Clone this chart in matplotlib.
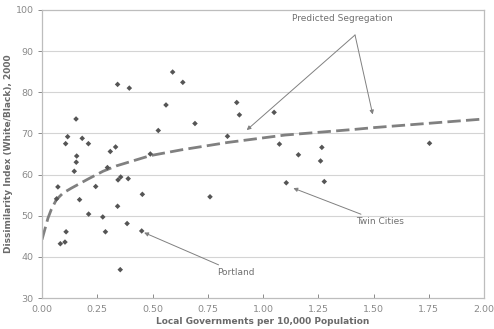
import matplotlib
matplotlib.use("Agg")
import matplotlib.pyplot as plt

# Scatter data: local governments per 10,000 population vs dissimilarity index
gov_per_10k = [0.072, 0.066, 0.083, 0.104, 0.109, 0.107, 0.116, 0.146, 0.155, 0.157,
               0.154, 0.170, 0.182, 0.210, 0.211, 0.243, 0.275, 0.287, 0.296, 0.309,
               0.333, 0.342, 0.342, 0.344, 0.356, 0.354, 0.385, 0.390, 0.395, 0.451,
               0.454, 0.490, 0.526, 0.561, 0.591, 0.637, 0.692, 0.760, 0.839, 0.881,
               0.893, 1.050, 1.074, 1.105, 1.160, 1.260, 1.266, 1.277, 1.753]
dissimilarity = [57.0, 54.1, 43.2, 43.6, 46.1, 67.5, 69.2, 60.8, 63.0, 64.5,
                 73.5, 53.9, 68.8, 67.5, 50.4, 57.1, 49.7, 46.1, 61.7, 65.6,
                 66.7, 81.9, 52.3, 58.7, 59.4, 36.9, 48.1, 59.0, 81.0, 46.3,
                 55.2, 65.0, 70.7, 76.9, 84.9, 82.4, 72.4, 54.6, 69.3, 77.5,
                 74.5, 75.1, 67.4, 58.0, 64.8, 63.3, 66.6, 58.3, 67.6]

# Predicted segregation curve
pred_x = [0.0, 0.027, 0.042, 0.065, 0.095, 0.133, 0.208, 0.276, 0.336, 0.49,
          0.63, 0.84, 1.10, 1.42, 1.50, 2.00]
pred_y = [44.2, 49.4, 51.5, 53.9, 55.5, 56.7, 58.9, 60.8, 62.1, 64.6,
          66.0, 67.8, 69.6, 71.0, 71.4, 73.5]

x_ticks = [0.00, 0.25, 0.50, 0.75, 1.00, 1.25, 1.50, 1.75, 2.00]
x_tick_labels = ["0.00", "0.25", "0.50", "0.75", "1.00", "1.25", "1.50", "1.75", "2.00"]
y_ticks = [30, 40, 50, 60, 70, 80, 90, 100]

fig = plt.figure(figsize=(4.94, 3.29), dpi=100)
ax = fig.add_axes([0.085, 0.094, 0.895, 0.876])

ax.set_xlim(0, 2.0)
ax.set_ylim(30, 100)
ax.set_xticks(x_ticks)
ax.set_xticklabels(x_tick_labels)
ax.set_yticks(y_ticks)

for y in y_ticks[1:-1]:
    ax.axhline(y, color="#d4d4d4", lw=0.8, zorder=0)

for sp in ax.spines.values():
    sp.set_color("#bdbdbd")
    sp.set_linewidth(0.9)

ax.tick_params(axis="both", labelsize=6.8, colors="#8a8a8a", length=3, width=0.7)
ax.tick_params(axis="x", direction="in", pad=5)
ax.tick_params(axis="y", direction="out", pad=3)

ax.scatter(gov_per_10k, dissimilarity, marker="D", s=8, color="#555555",
           edgecolors="none", zorder=3)

ln, = ax.plot(pred_x, pred_y, color="#808080", lw=2.0, zorder=2)
ln.set_dashes([4.8, 1.9])

arrow_kw = dict(arrowstyle="-|>", color="#808080", lw=0.7, mutation_scale=6,
                shrinkA=0, shrinkB=0)

ax.text(1.36, 98.0, "Predicted Segregation", fontsize=6.5, color="#707070",
        ha="center", va="center")
ax.annotate("", xy=(0.926, 70.8), xytext=(1.416, 93.9), arrowprops=arrow_kw)
ax.annotate("", xy=(1.496, 74.6), xytext=(1.416, 93.9), arrowprops=arrow_kw)

ax.annotate("Portland", xy=(0.462, 45.9), xytext=(0.79, 36.3), fontsize=6.5,
            color="#707070", ha="left", va="center", arrowprops=arrow_kw)
ax.annotate("Twin Cities", xy=(1.137, 56.7), xytext=(1.42, 48.6), fontsize=6.5,
            color="#707070", ha="left", va="center", arrowprops=arrow_kw)

ax.set_xlabel("Local Governments per 10,000 Population", fontsize=6.5,
              fontweight="bold", color="#6a6a6a", labelpad=2)
ax.set_ylabel("Dissimilarity Index (White/Black), 2000", fontsize=6.5,
              fontweight="bold", color="#6a6a6a", labelpad=2)

fig.savefig("out.png", dpi=100)
